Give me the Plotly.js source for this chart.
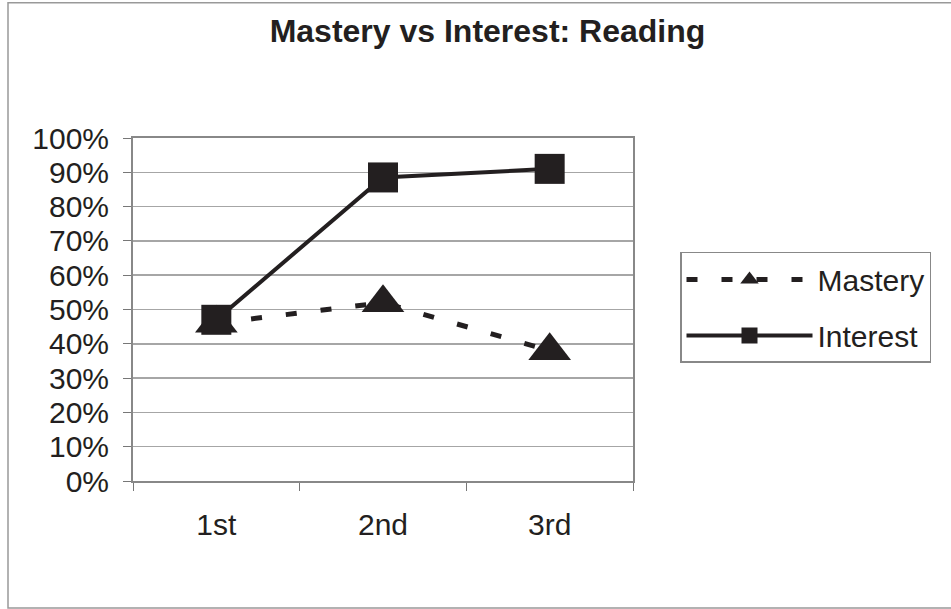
<!DOCTYPE html>
<html><head><meta charset="utf-8">
<script src="https://cdn.plot.ly/plotly-3.0.1.min.js"></script>
<style>html,body{margin:0;padding:0;background:#fff;}#chart{width:951px;height:609px;}</style>
</head><body><div id="chart"></div>
<script>
var grades = ['1st', '2nd', '3rd'];
var mastery = [0.46, 0.52, 0.38];
var interest = [0.47, 0.885, 0.91];
var yTickVals = [0, 0.1, 0.2, 0.3, 0.4, 0.5, 0.6, 0.7, 0.8, 0.9, 1.0];
var yTickText = ['0%', '10%', '20%', '30%', '40%', '50%', '60%', '70%', '80%', '90%', '100%'];

var ink = '#231f20';
var font = 'Liberation Sans, Arial, sans-serif';

var traces = [
  {x: grades, y: mastery, name: 'Mastery', type: 'scatter', mode: 'lines+markers', legendgroup: 'a',
   line: {color: ink, width: 5, dash: '11px,24px'},
   marker: {symbol: 'triangle-up', size: 37, color: ink}},
  {x: grades, y: interest, name: 'Interest', type: 'scatter', mode: 'lines+markers', legendgroup: 'b',
   line: {color: ink, width: 4},
   marker: {symbol: 'square', size: 30, color: ink}}
];

var layout = {
  width: 951, height: 609,
  margin: {l: 133, r: 318, t: 138, b: 128},
  paper_bgcolor: '#fff', plot_bgcolor: '#fff',
  font: {family: font, color: ink, size: 30},
  title: {text: '<b>Mastery vs Interest: Reading</b>', font: {size: 32, family: font, color: ink},
          x: 0.709, xref: 'paper', xanchor: 'center', y: 0.95, yref: 'container', yanchor: 'middle'},
  xaxis: {type: 'category', range: [-0.5, 2.5], tickson: 'boundaries', ticks: 'outside', ticklen: 8,
          tickcolor: '#777', tickwidth: 1, showline: true, linecolor: '#888', linewidth: 2, mirror: true,
          showgrid: false, zeroline: false, tickfont: {size: 30}, ticklabelstandoff: 16, fixedrange: true},
  yaxis: {range: [0, 1], tickvals: yTickVals, ticktext: yTickText, ticks: 'outside', ticklen: 8,
          tickcolor: '#777', tickwidth: 1, showline: true, linecolor: '#888', linewidth: 2, mirror: true,
          showgrid: true, gridcolor: '#a6a6a6', gridwidth: 1.5, zeroline: false, tickfont: {size: 30},
          ticklabelstandoff: 8, fixedrange: true},
  showlegend: true,
  legend: {x: 1.094, xanchor: 'left', y: 0.668, yanchor: 'top', bordercolor: '#888', borderwidth: 1.5,
           bgcolor: '#fff', font: {size: 30, family: font, color: ink}, itemwidth: 126, tracegroupgap: 14,
           traceorder: 'grouped'},
  shapes: [{type: 'rect', xref: 'paper', yref: 'paper', x0: -0.25, x1: 1.75, y0: -0.37, y1: 1.394,
            line: {color: '#999', width: 1.5}, fillcolor: 'rgba(0,0,0,0)', layer: 'below'}]
};
Plotly.newPlot('chart', traces, layout, {displayModeBar: false, staticPlot: true});
</script></body></html>
